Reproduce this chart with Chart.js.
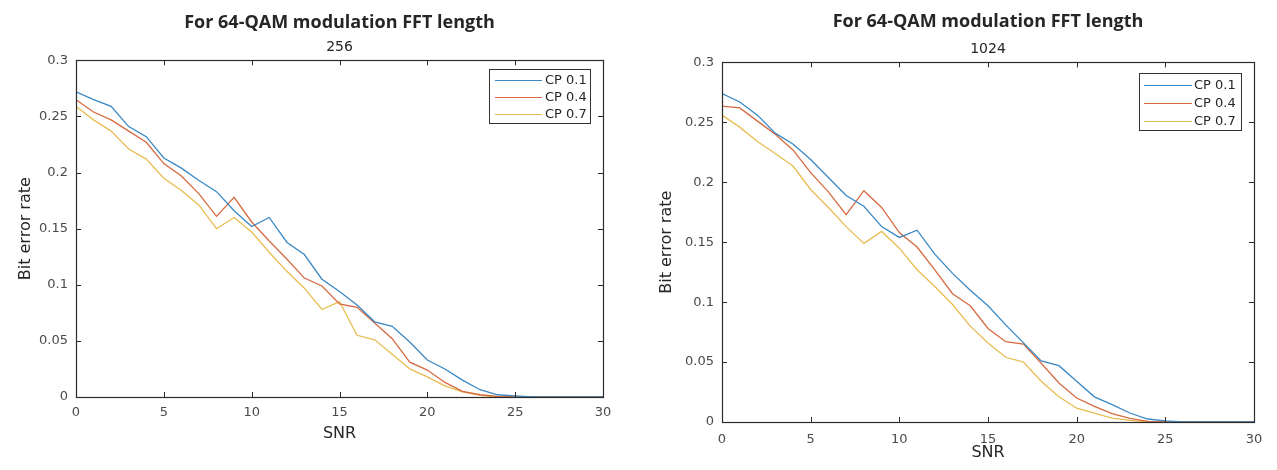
<!DOCTYPE html>
<html>
<head>
<meta charset="utf-8">
<script src="https://cdn.jsdelivr.net/npm/chart.js@4.4.1/dist/chart.umd.min.js"></script>
<style>
  html, body { margin: 0; padding: 0; background: #ffffff; }
  body { width: 1277px; height: 470px; position: relative; overflow: hidden; }
  .box { position: absolute; top: 0; height: 470px; }
  #wrapA { left: 0; width: 640px; }
  #wrapB { left: 640px; width: 637px; }
</style>
</head>
<body>
<div class="box" id="wrapA"><canvas id="chartA"></canvas></div>
<div class="box" id="wrapB"><canvas id="chartB"></canvas></div>
<script>
// ---- data ----
const snr = [0,1,2,3,4,5,6,7,8,9,10,11,12,13,14,15,16,17,18,19,20,21,22,23,24,25,26,27,28,29,30];
const seriesLabels = ['CP 0.1', 'CP 0.4', 'CP 0.7'];
const xTicks = [0, 5, 10, 15, 20, 25, 30];
const yTicks = [0, 0.05, 0.1, 0.15, 0.2, 0.25, 0.3];
const mainTitle = 'For 64-QAM modulation FFT length';
const fftA = '256';
const fftB = '1024';
const xLabel = 'SNR';
const yLabel = 'Bit error rate';

// FFT length 256
const cp01_256 = [0.272,0.265,0.259,0.241,0.232,0.213,0.204,0.193,0.183,0.166,0.152,0.160,0.138,0.127,0.105,0.094,0.082,0.067,0.063,0.049,0.033,0.025,0.015,0.0065,0.002,0.001,0,0,0,0,0];
const cp04_256 = [0.265,0.254,0.247,0.237,0.227,0.208,0.197,0.181,0.161,0.178,0.156,0.139,0.123,0.106,0.099,0.083,0.080,0.066,0.052,0.031,0.024,0.013,0.005,0.002,0.0006,0,0,0,0,0,0];
const cp07_256 = [0.259,0.247,0.237,0.221,0.212,0.195,0.184,0.171,0.150,0.160,0.147,0.129,0.112,0.097,0.078,0.085,0.055,0.051,0.038,0.025,0.018,0.010,0.0045,0.0015,0,0,0,0,0,0,0];

// FFT length 1024
const cp01_1024 = [0.274,0.267,0.256,0.241,0.232,0.219,0.204,0.189,0.180,0.163,0.154,0.160,0.140,0.124,0.110,0.097,0.081,0.066,0.051,0.047,0.034,0.021,0.0145,0.0075,0.0025,0.001,0,0,0,0,0];
const cp04_1024 = [0.2635,0.262,0.251,0.240,0.227,0.208,0.192,0.173,0.193,0.179,0.158,0.146,0.127,0.107,0.097,0.078,0.067,0.065,0.049,0.0325,0.020,0.013,0.007,0.003,0.0006,0,0,0,0,0,0];
const cp07_1024 = [0.256,0.246,0.234,0.224,0.2135,0.194,0.179,0.163,0.149,0.159,0.145,0.127,0.113,0.098,0.080,0.066,0.054,0.050,0.034,0.021,0.0115,0.0075,0.0033,0.0014,0,0,0,0,0,0,0];

// ---- styling ----
const lineColors = ['#3a88c4', '#d76a40', '#e8bd52'];
const axisColor = '#2b2b2b';
const tickColor = '#4a4a4a';
const textColor = '#262626';

// inward ticks + full box, MATLAB-like
const boxPlugin = {
  id: 'matlabBox',
  afterDatasetsDraw(chart) {
    const {ctx, chartArea: a, scales: {x, y}} = chart;
    const L = 5;
    ctx.save();
    ctx.strokeStyle = axisColor;
    ctx.lineWidth = 1;
    ctx.beginPath();
    xTicks.forEach(v => {
      const px = Math.round(x.getPixelForValue(v)) + 0.5;
      ctx.moveTo(px, a.bottom); ctx.lineTo(px, a.bottom - L);
      ctx.moveTo(px, a.top); ctx.lineTo(px, a.top + L);
    });
    yTicks.forEach(v => {
      const py = Math.round(y.getPixelForValue(v)) + 0.5;
      ctx.moveTo(a.left, py); ctx.lineTo(a.left + L, py);
      ctx.moveTo(a.right, py); ctx.lineTo(a.right - L, py);
    });
    ctx.stroke();
    ctx.lineWidth = 1.2;
    ctx.strokeRect(Math.round(a.left) + 0.5, Math.round(a.top) + 0.5,
                   Math.round(a.right - a.left), Math.round(a.bottom - a.top));
    ctx.restore();
  }
};

// boxed legend in the upper-right corner of the plot
const legendPlugin = {
  id: 'boxLegend',
  afterDraw(chart, args, o) {
    const {ctx, chartArea: a} = chart;
    const left = a.right - o.right - o.w;
    const top = a.top + o.top;
    ctx.save();
    ctx.fillStyle = '#ffffff';
    ctx.fillRect(left, top, o.w, o.h);
    ctx.strokeStyle = '#333333';
    ctx.lineWidth = 1;
    ctx.strokeRect(Math.round(left) + 0.5, Math.round(top) + 0.5, o.w, o.h);
    ctx.font = '13px "DejaVu Sans"';
    ctx.textBaseline = 'middle';
    ctx.textAlign = 'left';
    chart.data.datasets.forEach((ds, i) => {
      const yy = Math.round(top + o.first + i * o.step) + 0.5;
      ctx.strokeStyle = ds.borderColor;
      ctx.lineWidth = 1.2;
      ctx.beginPath();
      ctx.moveTo(left + o.lx0, yy); ctx.lineTo(left + o.lx1, yy);
      ctx.stroke();
      ctx.fillStyle = textColor;
      ctx.fillText(ds.label, left + o.tx, yy);
    });
    ctx.restore();
  }
};

function makeChart(id, sub, series, g) {
  const datasets = series.map((arr, i) => ({
    label: seriesLabels[i],
    data: snr.map((s, k) => ({x: s, y: arr[k]})),
    borderColor: lineColors[i],
    backgroundColor: lineColors[i],
    borderWidth: 1.3,
    pointRadius: 0,
    tension: 0,
    fill: false
  }));
  return new Chart(document.getElementById(id), {
    type: 'line',
    data: { datasets },
    plugins: [boxPlugin, legendPlugin],
    options: {
      responsive: true,
      maintainAspectRatio: false,
      animation: false,
      devicePixelRatio: 1,
      layout: { padding: { left: 0, right: g.padRight, top: 0, bottom: 0 } },
      plugins: {
        legend: { display: false },
        tooltip: { enabled: false },
        title: {
          display: true, text: mainTitle, fullSize: false, color: textColor,
          font: { family: 'Open Sans', weight: 'bold', size: 18, lineHeight: 1.2 },
          padding: { top: g.titleTop, bottom: 4 }
        },
        subtitle: {
          display: true, text: sub, fullSize: false, color: textColor,
          font: { family: 'DejaVu Sans', size: 14, lineHeight: 1.2 },
          padding: { top: g.subTop, bottom: g.subBottom }
        },
        boxLegend: g.legend
      },
      scales: {
        x: {
          type: 'linear', min: 0, max: 30,
          afterBuildTicks: s => { s.ticks = xTicks.map(v => ({ value: v })); },
          afterFit: s => { s.height = g.xHeight; },
          grid: { display: false, drawTicks: false },
          border: { display: false },
          ticks: { color: tickColor, font: { family: 'DejaVu Sans', size: 13 }, padding: g.xTickPad, maxRotation: 0, autoSkip: false },
          title: { display: true, text: xLabel, color: textColor,
                   font: { family: 'DejaVu Sans', size: 16, lineHeight: 1.2 },
                   padding: { top: 0, bottom: g.xTitleBottom } }
        },
        y: {
          type: 'linear', min: 0, max: 0.3,
          afterBuildTicks: s => { s.ticks = yTicks.map(v => ({ value: v })); },
          afterFit: s => { s.width = g.yWidth; },
          grid: { display: false, drawTicks: false },
          border: { display: false },
          ticks: { color: tickColor, font: { family: 'DejaVu Sans', size: 13 }, padding: 8,
                   callback: v => String(Math.round(v * 100) / 100) },
          title: { display: true, text: yLabel, color: textColor,
                   font: { family: 'DejaVu Sans', size: 16, lineHeight: 1.2 },
                   padding: { top: g.yTitleTop, bottom: 0 } }
        }
      }
    }
  });
}

makeChart('chartA', fftA, [cp01_256, cp04_256, cp07_256], {
  padRight: 37, titleTop: 12, subTop: 1, subBottom: 5,
  xHeight: 73, xTickPad: 8, xTitleBottom: 27, yWidth: 76, yTitleTop: 16,
  legend: { right: 13, top: 9, w: 101, h: 54, first: 11, step: 17, lx0: 6, lx1: 53, tx: 56 }
});
makeChart('chartB', fftB, [cp01_1024, cp04_1024, cp07_1024], {
  padRight: 23, titleTop: 11, subTop: 4, subBottom: 5,
  xHeight: 48, xTickPad: 10, xTitleBottom: 8, yWidth: 82, yTitleTop: 17,
  legend: { right: 13, top: 11, w: 102, h: 57, first: 12, step: 18, lx0: 5, lx1: 53, tx: 55 }
});
</script>
</body>
</html>
